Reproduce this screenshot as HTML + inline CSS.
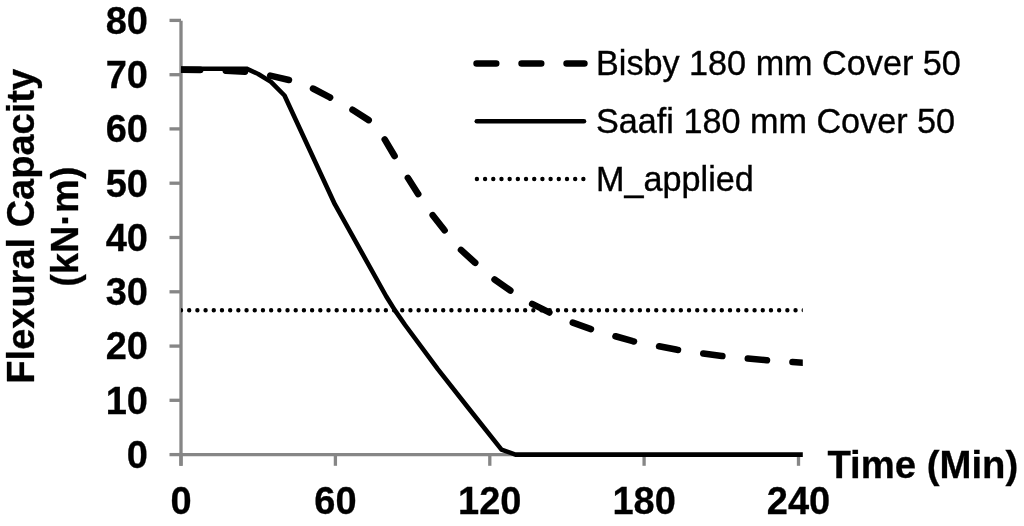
<!DOCTYPE html>
<html><head><meta charset="utf-8"><style>
html,body{margin:0;padding:0;background:#fff;width:1024px;height:526px;overflow:hidden}
svg{display:block;will-change:transform}
text{font-family:"Liberation Sans",sans-serif;fill:#000}
.b{font-weight:bold;font-size:38px;stroke:#000;stroke-width:0.3px}
.l{font-size:34.2px;stroke:#000;stroke-width:0.35px}
</style></head><body>
<svg width="1024" height="526" viewBox="0 0 1024 526">
<defs><clipPath id="pa"><rect x="181" y="0" width="621.8" height="526"/></clipPath></defs>

<g stroke="#868686" stroke-width="3.3" fill="none">
<line x1="181" y1="20.8" x2="181" y2="465.8"/>
<line x1="169.5" y1="454.6" x2="181" y2="454.6"/>
<line x1="169.5" y1="400.3" x2="181" y2="400.3"/>
<line x1="169.5" y1="346.1" x2="181" y2="346.1"/>
<line x1="169.5" y1="291.8" x2="181" y2="291.8"/>
<line x1="169.5" y1="237.5" x2="181" y2="237.5"/>
<line x1="169.5" y1="183.2" x2="181" y2="183.2"/>
<line x1="169.5" y1="128.9" x2="181" y2="128.9"/>
<line x1="169.5" y1="74.7" x2="181" y2="74.7"/>
<line x1="169.5" y1="20.4" x2="181" y2="20.4"/>
<line x1="181" y1="454.6" x2="800.1" y2="454.6"/>
<line x1="181.0" y1="454.6" x2="181.0" y2="465.8"/>
<line x1="335.4" y1="454.6" x2="335.4" y2="465.8"/>
<line x1="489.8" y1="454.6" x2="489.8" y2="465.8"/>
<line x1="644.1" y1="454.6" x2="644.1" y2="465.8"/>
<line x1="798.5" y1="454.6" x2="798.5" y2="465.8"/>
</g>
<g clip-path="url(#pa)" fill="none" stroke="#000">
<path d="M181.0,69.6 L202.0,69.9 L223.0,70.6 L248.0,71.8 L269.3,75.4 L289.8,80.2 L313.4,88.8 L329.9,97.4 L352.5,109.8 L368.8,120.2 L374.0,123.5 L385.0,139.9 L394.4,155.8 L407.9,177.9 L418.1,193.9 L432.4,214.8 L444.3,230.0 L460.9,249.8 L475.1,262.7 L494.5,279.5 L510.6,290.7 L531.4,303.5 L549.2,312.4 L572.5,322.6 L590.9,329.1 L615.2,336.2 L632.8,341.2 L658.8,346.3 L677.2,349.8 L703.2,353.5 L721.8,356.0 L747.3,358.5 L766.6,360.2 L791.8,362.0 L803.1,362.8 L812.0,363.4" stroke-width="6.6" stroke-linecap="round" stroke-linejoin="round" stroke-dasharray="19.2 25.6" stroke-dashoffset="0"/>
<path d="M181.0,68.7 L246.5,68.7 L258.2,74.0 L271.0,81.9 L284.5,95.5 L334.8,204.2 L386.3,296.5 L394.8,310.1 L405.1,325.0 L437.8,369.2 L468.0,407.5 L501.5,449.6 L515.5,454.6 L810.0,454.6" stroke-width="4.6" stroke-linecap="round" stroke-linejoin="round"/>
<line x1="181" y1="310.2" x2="810" y2="310.2" stroke-width="4.4" stroke-linecap="round" stroke-dasharray="0 8.194"/>
</g>
<g fill="none" stroke="#000">
<line x1="476.6" y1="63.5" x2="584.4" y2="63.5" stroke-width="6.6" stroke-linecap="round" stroke-dasharray="19.6 25.4"/>
<line x1="476.8" y1="121.3" x2="584" y2="121.3" stroke-width="4.6" stroke-linecap="round"/>
<line x1="476.9" y1="179" x2="584" y2="179" stroke-width="4.4" stroke-linecap="round" stroke-dasharray="0 8.19"/>
</g>
<text class="b" x="148" y="467.9" text-anchor="end">0</text>
<text class="b" x="148" y="413.6" text-anchor="end">10</text>
<text class="b" x="148" y="359.4" text-anchor="end">20</text>
<text class="b" x="148" y="305.1" text-anchor="end">30</text>
<text class="b" x="148" y="250.8" text-anchor="end">40</text>
<text class="b" x="148" y="196.5" text-anchor="end">50</text>
<text class="b" x="148" y="142.2" text-anchor="end">60</text>
<text class="b" x="148" y="88.0" text-anchor="end">70</text>
<text class="b" x="148" y="33.7" text-anchor="end">80</text>
<text class="b" x="181.0" y="514.3" text-anchor="middle">0</text>
<text class="b" x="335.4" y="514.3" text-anchor="middle">60</text>
<text class="b" x="489.8" y="514.3" text-anchor="middle">120</text>
<text class="b" x="644.1" y="514.3" text-anchor="middle">180</text>
<text class="b" x="798.5" y="514.3" text-anchor="middle">240</text>
<text class="b" x="827.4" y="478" style="font-size:38.3px">Time (Min)</text>
<text class="b" transform="translate(34,226.3) rotate(-90)" text-anchor="middle">Flexural Capacity</text>
<text class="b" transform="translate(78.3,226.7) rotate(-90)" text-anchor="middle">(kN·m)</text>
<text class="l" x="596" y="75.4">Bisby 180 mm Cover 50</text>
<text class="l" x="596" y="133.2">Saafi 180 mm Cover 50</text>
<text class="l" x="596" y="190.8">M_applied</text>
</svg></body></html>
